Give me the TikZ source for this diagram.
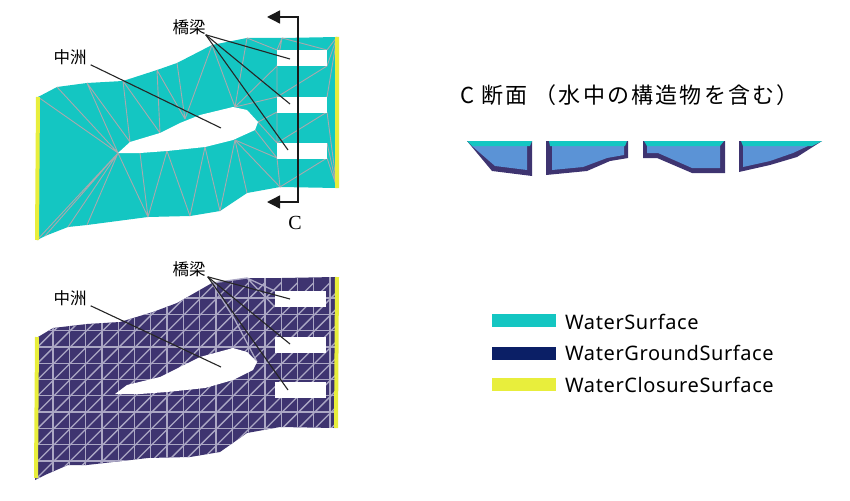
\documentclass[tikz,border=0pt]{standalone}
\usepackage{fontspec}
\usetikzlibrary{arrows.meta}
\newfontfamily\jpfont{Noto Sans CJK JP}
\newfontfamily\jptitle[LetterSpace=10]{Noto Sans CJK JP}
\newfontfamily\legendfont[LetterSpace=3]{Noto Sans}
\newfontfamily\sectionfont{Liberation Serif}
\definecolor{watercyan}{HTML}{14C6C2}
\definecolor{waterground}{HTML}{3E3470}
\definecolor{waterblue}{HTML}{5B93D6}
\definecolor{waterclosure}{HTML}{E8EE3C}
\definecolor{legendnavy}{HTML}{0B1F66}
\definecolor{meshgrey}{HTML}{A9A9AE}
\definecolor{meshlight}{HTML}{ABA7C4}
\tikzset{
  meshline/.style={draw=meshgrey,line width=0.9pt},
  gridline/.style={draw=meshlight,line width=1.3pt},
  closure/.style={draw=waterclosure,line width=4pt},
  leader/.style={draw=black!85,line width=1.1pt},
  tag/.style={font=\jpfont\fontsize{16.5}{17}\selectfont,inner sep=0pt},
  legendbox/.style={minimum width=64pt,minimum height=13pt,inner sep=0pt,draw=none},
  legendtext/.style={font=\legendfont\fontsize{20}{21}\selectfont,anchor=west,inner sep=0pt},
}
\begin{document}
\begin{tikzpicture}[x=1pt,y=-1pt]
    \useasboundingbox (0,0) rectangle (850,500);
    % upper plan
    \fill[watercyan] (38,97)--(57,87)--(87,83)--(123,81)--(157,70)--(177,63)--(212,45)--(247,38)--(282,38)--(337,37)
        --(337,188)--(280,187)--(247,193)--(220,211)--(190,216)--(148,217)--(87,225)--(68,227)--(45,236)--(37,240)--cycle;
    \draw[meshline] (38,97)--(118,153) (57,87)--(118,153) (87,83)--(118,153) (87,83)--(130,142)
        (123,81)--(130,142) (123,81)--(160,133) (157,70)--(160,133) (157,70)--(185,119) (177,63)--(185,119)
        (212,45)--(185,119) (212,45)--(235,107) (247,38)--(235,107) (247,38)--(277,50) (282,38)--(277,50)
        (282,38)--(327,50) (337,37)--(327,50) (337,37)--(327,66) (235,107)--(277,66) (277,66)--(282,38)
        (277,66)--(277,97) (235,107)--(277,97) (327,66)--(277,97) (337,37)--(327,97) (277,112)--(327,97)
        (258,122)--(277,112) (258,122)--(277,143) (277,112)--(277,143) (327,112)--(277,143) (235,140)--(277,158)
        (255,130)--(277,158) (277,158)--(280,187) (327,158)--(280,187) (327,158)--(337,188) (327,143)--(337,188)
        (327,112)--(337,188);
    \draw[meshline] (118,153)--(37,240) (118,153)--(45,236) (118,153)--(68,227) (118,153)--(87,225)
        (118,153)--(148,217) (140,153)--(148,217) (167,151)--(148,217) (167,151)--(190,216) (205,147)--(190,216)
        (205,147)--(220,211) (235,140)--(220,211) (235,140)--(247,193) (235,140)--(280,187);
    \fill[white] (118,153)--(130,142)--(160,133)--(180,123)--(200,115)--(233,107)--(247,110)--(258,122)--(255,130)
        --(233,140)--(205,147)--(167,151)--(140,153)--cycle;
    \foreach \y in {50,97,143}
        \fill[white] (277,\y) rectangle (327,\y+16);
    \draw[closure] (38,97)--(37,240) (337,37)--(337,188);
    % lower plan
    \fill[waterground] (38,337)--(53,328)--(87,324)--(120,322)--(153,312)--(177,303)--(212,283)--(247,278)--(282,278)--(335,277)
        --(335,428)--(280,427)--(247,433)--(220,452)--(190,457)--(148,458)--(87,465)--(68,465)--(45,475)--(35,480)--cycle;
    \begin{scope}
        \clip (38,337)--(53,328)--(87,324)--(120,322)--(153,312)--(177,303)--(212,283)--(247,278)--(282,278)--(335,277)
            --(335,428)--(280,427)--(247,433)--(220,452)--(190,457)--(148,458)--(87,465)--(68,465)--(45,475)--(35,480)--cycle;
        \foreach \i in {0,...,17}
            \draw[gridline] (53+\i*16.3,270)--(53+\i*16.3,485);
        \foreach \j in {0,...,11}
            \draw[gridline] (30,298+\j*16.3)--(340,298+\j*16.3);
        \foreach \i in {-14,...,18}
            \draw[gridline] (53+\i*16.3,478.3)--(53+\i*16.3+195.6,282.7);
    \end{scope}
    \draw[gridline] (212,283)--(247,278)--(275,291) (247,278)--(275,307) (212,283)--(235,320)--(257,362);
    \fill[white] (115,394)--(127,385)--(160,377)--(180,367)--(200,357)--(233,348)--(247,352)--(257,362)--(253,370)
        --(233,380)--(205,388)--(167,392)--(140,394)--cycle;
    \foreach \y in {291,337,382}
        \fill[white] (275,\y) rectangle (326,\y+16);
    \draw[closure] (37,337)--(36,478) (337,277)--(336,428);
    % labels of the upper plan
    \node[tag] (bridgeU) at (189,27) {橋梁};
    \node[tag] (sandU) at (70,57) {中洲};
    \coordinate (bridgeUa) at (290,59);
    \coordinate (bridgeUb) at (290,104);
    \coordinate (bridgeUc) at (288,150);
    \coordinate (sandUa) at (221,128);
    \foreach \e in {bridgeUa,bridgeUb,bridgeUc}
        \draw[leader] (bridgeU.south east)--(\e);
    \draw[leader] ([xshift=4pt]sandU.south east)--(sandUa);
    % labels of the lower plan
    \node[tag] (bridgeL) at (189,269) {橋梁};
    \node[tag] (sandL) at (70,298) {中洲};
    \coordinate (bridgeLa) at (290,299);
    \coordinate (bridgeLb) at (290,344);
    \coordinate (bridgeLc) at (288,390);
    \coordinate (sandLa) at (221,367);
    \foreach \e in {bridgeLa,bridgeLb,bridgeLc}
        \draw[leader] ([xshift=2pt]bridgeL.south east)--(\e);
    \draw[leader] ([xshift=4pt]sandL.south east)--(sandLa);
    % section mark
    \coordinate (tipA) at (267,17);
    \coordinate (cornerA) at (298,17);
    \coordinate (cornerB) at (298,202);
    \coordinate (tipB) at (267,202);
    \draw[{Triangle[length=13pt,width=13pt]}-{Triangle[length=13pt,width=13pt]},line width=1.4pt,black!90]
        (tipA)--(cornerA)--(cornerB)--(tipB);
    \node[font=\sectionfont\fontsize{20}{20}\selectfont,inner sep=0pt] (mark) at (295,223) {C};
    % sections
    \node[font=\jptitle\fontsize{22}{23}\selectfont,anchor=west,inner sep=0pt] (title) at (460,95) {C 断面 （水中の構造物を含む）};
    \fill[waterground] (467,141)--(532,141)--(532,176)--(492,171)--cycle;
    \fill[waterblue] (472,146)--(527,146)--(527,170)--(495,166)--cycle;
    \fill[watercyan] (467,141)--(532,141)--(530,146)--(472,146)--cycle;
    \fill[waterground] (546,141)--(628,141)--(628,158)--(610,161)--(587,171)--(546,175)--cycle;
    \fill[waterblue] (552,146)--(624,146)--(624,155)--(607,158)--(583,167)--(552,170)--cycle;
    \fill[watercyan] (549,141)--(627,141)--(625,146)--(550,146)--cycle;
    \fill[waterground] (643,141)--(725,141)--(725,173)--(692,173)--(657,158)--(643,158)--cycle;
    \fill[waterblue] (647,146)--(720,146)--(720,168)--(692,168)--(658,153)--(647,153)--cycle;
    \fill[watercyan] (644,141)--(724,141)--(720,146)--(647,146)--cycle;
    \fill[waterground] (739,141)--(822,141)--(797,157)--(770,165)--(739,172)--cycle;
    \fill[waterblue] (743,146)--(808,146)--(793,153)--(770,161)--(743,167)--cycle;
    \fill[watercyan] (741,141)--(822,141)--(812,146)--(743,146)--cycle;
    % legend
    \node[legendbox,fill=watercyan,anchor=north west] (keyA) at (492,314) {};
    \node[legendbox,fill=legendnavy,anchor=north west] (keyB) at (492,347) {};
    \node[legendbox,fill=waterclosure,anchor=north west] (keyC) at (492,378) {};
    \node[legendtext] (nameA) at (565,322) {WaterSurface};
    \node[legendtext] (nameB) at (565,353) {WaterGroundSurface};
    \node[legendtext] (nameC) at (565,385) {WaterClosureSurface};
\end{tikzpicture}
\end{document}
